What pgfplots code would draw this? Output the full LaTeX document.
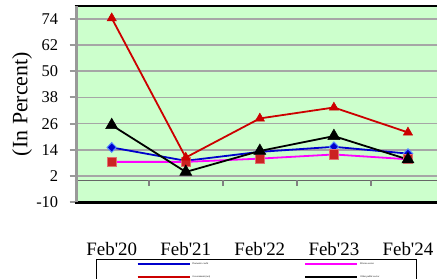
\documentclass[border=0pt]{standalone}
\usepackage{fontspec}
\setmainfont{Liberation Serif}
\usepackage{pgfplots}
\pgfplotsset{compat=1.18}
\definecolor{bggreen}{HTML}{CCFFCC}
\definecolor{sblue}{HTML}{0000CC}
\definecolor{sred}{HTML}{CC0000}
\definecolor{smag}{HTML}{FF00FF}
\definecolor{sqfill}{HTML}{CC2222}
\definecolor{sqdraw}{HTML}{E07070}
\definecolor{dmdraw}{HTML}{5588FF}
\definecolor{gridc}{HTML}{A6A6A6}
\definecolor{axc}{HTML}{999999}
\begin{document}
\begin{tikzpicture}
\begin{axis}[
  at={(74.7bp,76.7bp)}, anchor=south west,
  scale only axis, width=370.3bp, height=196.6bp,
  xmin=-0.5, xmax=4.5, ymin=-10, ymax=80,
  clip=false,
  axis line style={draw=none},
  axis background/.style={fill=bggreen},
  xtick={0,1,2,3,4},
  xticklabels={Feb\textquotesingle20,Feb\textquotesingle21,Feb\textquotesingle22,Feb\textquotesingle23,Feb\textquotesingle24},
  xtick style={draw=none},
  xticklabel style={font=\fontsize{19}{22}\selectfont, anchor=base, yshift=-47.7bp},
  ytick={-10,2,14,26,38,50,62,74},
  yticklabels={-10,2,14,26,38,50,62,74},
  ytick pos=left, xtick pos=bottom,
  tick align=outside,
  major tick length=5bp,
  ytick style={draw=axc, line width=2bp},
  yticklabel style={font=\fontsize{16.5}{18}\selectfont, xshift=-8bp},
  ymajorgrids, major grid style={draw=gridc, line width=1.5bp},
  ylabel={(In Percent)},
  ylabel style={font=\fontsize{22}{24}\selectfont, at={(axis description cs:-0.1423,0.5)}, anchor=center, rotate=0},
  legend columns=2,
  legend style={at={(axis description cs:0.0575,-0.2884)}, anchor=north west,
    draw=black, line width=1.5bp, fill=white,
    font=\fontsize{2.5}{3}\selectfont,
    inner xsep=40bp, inner ysep=1bp, row sep=5.5bp,
    /tikz/every even column/.append style={column sep=0bp}},
  legend cell align=left,
  legend image code/.code={\draw[#1, line width=1.8bp] (0bp,0bp) -- (52bp,0bp);},
]
\draw[black!60, line width=1.5bp] (axis cs:-0.5,0) -- (axis cs:4.5,0);
\draw[black!50, line width=1.5bp] (axis cs:0.5,0) -- ([yshift=-5.6bp]axis cs:0.5,0);
\draw[black!50, line width=1.5bp] (axis cs:1.5,0) -- ([yshift=-5.6bp]axis cs:1.5,0);
\draw[black!50, line width=1.5bp] (axis cs:2.5,0) -- ([yshift=-5.6bp]axis cs:2.5,0);
\draw[black!50, line width=1.5bp] (axis cs:3.5,0) -- ([yshift=-5.6bp]axis cs:3.5,0);
\addplot[sblue, line width=1.8bp, mark=diamond*, mark size=4.8bp, mark options={fill=sblue, draw=dmdraw, line width=1bp, xscale=1.3}]
  coordinates {(0,15.1) (1,9.0) (2,13.1) (3,15.4) (4,12.3)};
\addlegendentry{\makebox[110bp][l]{Domestic credit}}
\addplot[smag, line width=1.8bp, mark=square*, mark size=4.6bp, mark options={fill=sqfill, draw=sqdraw, line width=0.8bp}]
  coordinates {(0,8.5) (1,8.5) (2,10.0) (3,11.9) (4,9.7)};
\addlegendentry{\makebox[14bp][l]{Private sector}}
\addplot[sred, line width=1.8bp, mark=triangle*, mark size=5.3bp, mark options={fill=sred, draw=sred, line width=0.5bp}]
  coordinates {(0,74.3) (1,10.5) (2,28.4) (3,33.4) (4,22.0)};
\addlegendentry{\makebox[110bp][l]{Government (net)}}
\addplot[black, line width=1.8bp, mark=triangle*, mark size=7bp, mark options={fill=black, draw=black, line width=0.5bp}]
  coordinates {(0,25.3) (1,3.9) (2,13.5) (3,20.3) (4,9.6)};
\addlegendentry{\makebox[14bp][l]{Other public sector}}
\draw[black, line width=2bp] (rel axis cs:0,1) -- (rel axis cs:1,1);
\draw[black, line width=2.5bp] (rel axis cs:0,0) -- (rel axis cs:1,0);
\draw[axc, line width=3bp] ([xshift=1.8bp]rel axis cs:0,0) -- ([xshift=1.8bp]rel axis cs:0,1);
\end{axis}
\pgfresetboundingbox
\useasboundingbox (0,0) rectangle (437bp,279bp);
\end{tikzpicture}
\end{document}
